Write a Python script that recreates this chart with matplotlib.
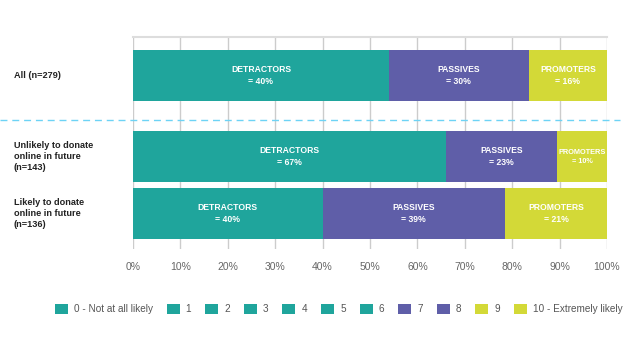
import matplotlib
matplotlib.use('Agg')
import matplotlib.pyplot as plt
from matplotlib.lines import Line2D

plt.rcParams['font.family'] = ['Liberation Sans', 'DejaVu Sans']

ROWS = ['All (n=279)', 'Unlikely to donate\nonline in future\n(n=143)', 'Likely to donate\nonline in future\n(n=136)']
ROW_POS = [0, 1.573, 2.68]
SCORES = ['0 - Not at all likely', '1', '2', '3', '4', '5', '6', '7', '8', '9', '10 - Extremely likely']

# share of respondents (%) for each score 0..10, per row
SCORE_VALUES = [
    [9, 4, 6, 7, 6, 13, 9, 13, 16.5, 7, 9.5],
    [17, 6, 8, 9, 7, 12, 7, 11.5, 12, 4.5, 6],
    [4, 3, 4, 5, 6, 10, 8, 18, 20.5, 9, 12.5],
]
GROUPS = ['DETRACTORS', 'PASSIVES', 'PROMOTERS']
GROUP_SCORES = [range(0, 7), range(7, 9), range(9, 11)]
GROUP_LABELS = [
    ['= 40%', '= 30%', '= 16%'],
    ['= 67%', '= 23%', '= 10%'],
    ['= 40%', '= 39%', '= 21%'],
]
TICKS = [0, 10, 20, 30, 40, 50, 60, 70, 80, 90, 100]

TEAL = '#1fa59c'
PURPLE = '#5f5ea8'
YELLOW = '#d3d937'
score_colors = [TEAL] * 7 + [PURPLE] * 2 + [YELLOW] * 2

fig = plt.figure(figsize=(6.27, 3.47), dpi=100)
ax = fig.add_axes([133 / 627, 1 - 249 / 347, 474 / 627, 212 / 347])

for ax_x in TICKS:
    ax.axvline(ax_x, color='#cccccc', lw=1, zorder=0)

handles = []
for s, name in enumerate(SCORES):
    vals = [row[s] for row in SCORE_VALUES]
    lefts = [sum(row[:s]) for row in SCORE_VALUES]
    b = ax.barh(ROW_POS, vals, left=lefts, height=1.0, color=score_colors[s],
                edgecolor='none', zorder=2, label=name)
    handles.append(b)

for r, row in enumerate(SCORE_VALUES):
    for g, scores in enumerate(GROUP_SCORES):
        start = sum(row[:scores[0]])
        width = sum(row[i] for i in scores)
        size = 6.2
        if width < 12:
            size = 5.3
        ax.text(start + width / 2, ROW_POS[r], GROUPS[g] + '\n' + GROUP_LABELS[r][g],
                ha='center', va='center', color='white', fontsize=size,
                fontweight='bold', linespacing=1.4, zorder=3)

ax.set_xlim(0, 100)
ax.set_ylim(3.369, -0.748)
ax.set_xticks(TICKS)
ax.set_xticklabels(['{}%'.format(t) for t in TICKS], color='#666666', fontsize=7.5)
ax.tick_params(axis='x', length=0, pad=9)
ax.set_yticks([])
for side in ['left', 'right', 'bottom']:
    ax.spines[side].set_visible(False)
ax.spines['top'].set_color('#dddddd')
ax.spines['top'].set_linewidth(1.5)

for r, label in enumerate(ROWS):
    y = 1 - (37 + (ROW_POS[r] + 0.748) * 51.5) / 347
    fig.text(14 / 627, y, label, ha='left', va='center', fontsize=6.6,
             fontweight='bold', color='#222222', linespacing=1.35)

# dashed separator across the whole figure
fig.add_artist(Line2D([0, 620 / 627], [1 - 120.3 / 347] * 2, color='#6dd3f5',
                      lw=1, ls=(0, (5, 3.5)), transform=fig.transFigure))

fig.legend(handles=handles, loc='center', bbox_to_anchor=(0.540, 1 - 309 / 347),
           ncol=11, frameon=False, fontsize=7.2, handlelength=1.3, handleheight=1.3,
           handletextpad=0.6, columnspacing=1.4, labelcolor='#555555')

fig.savefig('out.png', dpi=100)
